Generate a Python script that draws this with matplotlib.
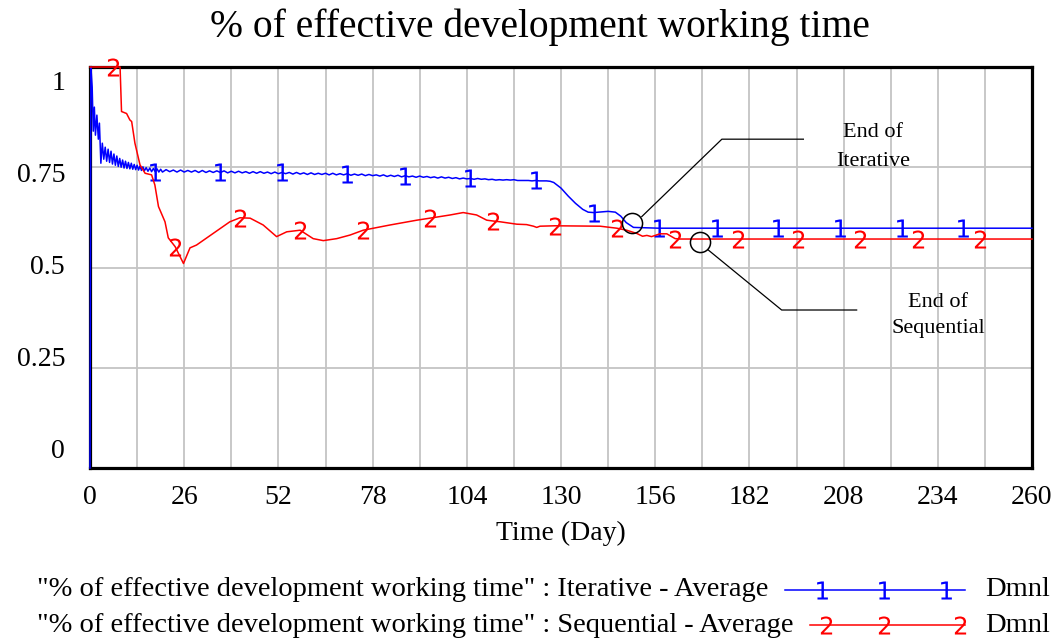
import numpy as np
import matplotlib
matplotlib.use("Agg")
import matplotlib.pyplot as plt
from matplotlib.transforms import offset_copy

plt.rcParams['font.family'] = ['Liberation Serif', 'DejaVu Serif']

# ---- data ----
# Iterative - Average (line "1")
iter_t_start = [0, 0.25, 0.6, 0.9, 1.2, 1.5, 1.9, 2.3, 2.6, 3.0,
                3.4, 3.8, 4.2, 4.6, 5.0, 5.4, 5.8, 6.2, 6.6, 7.0,
                7.4, 7.8, 8.2, 8.6, 9.0, 9.4, 9.8, 10.2, 10.6, 11.0,
                11.4, 11.8, 12.2, 12.6, 13.0, 13.4, 13.8, 14.2, 14.6, 15.0,
                15.5, 16.0, 16.5, 17.0, 17.5, 18.0, 18.5, 19.0, 19.5, 20.0]
iter_y_start = [0.0, 1.0, 0.95, 0.84, 0.90, 0.83, 0.88, 0.82, 0.86, 0.76,
                0.81, 0.77, 0.80, 0.765, 0.795, 0.762, 0.79, 0.758, 0.783, 0.755,
                0.778, 0.752, 0.772, 0.75, 0.768, 0.748, 0.765, 0.747, 0.762, 0.746,
                0.76, 0.745, 0.757, 0.744, 0.755, 0.743, 0.753, 0.742, 0.751, 0.741,
                0.749, 0.740, 0.748, 0.739, 0.747, 0.739, 0.746, 0.738, 0.745, 0.738]
# daily values, day 21 .. 127
iter_y_mid = [0.744, 0.739, 0.743, 0.738, 0.743, 0.738, 0.742, 0.738, 0.742, 0.737,
              0.742, 0.737, 0.741, 0.737, 0.741, 0.737, 0.741, 0.736, 0.740, 0.736,
              0.740, 0.736, 0.739, 0.735, 0.739, 0.735, 0.739, 0.735, 0.738, 0.734,
              0.738, 0.734, 0.737, 0.734, 0.737, 0.733, 0.737, 0.733, 0.736, 0.732,
              0.736, 0.732, 0.735, 0.732, 0.735, 0.731, 0.735, 0.731, 0.734, 0.731,
              0.734, 0.730, 0.733, 0.730, 0.733, 0.729, 0.732, 0.729, 0.731, 0.728,
              0.731, 0.727, 0.730, 0.727, 0.730, 0.726, 0.729, 0.726, 0.728, 0.725,
              0.728, 0.725, 0.727, 0.724, 0.726, 0.723, 0.726, 0.723, 0.725, 0.722,
              0.724, 0.721, 0.723, 0.721, 0.722, 0.720, 0.722, 0.720, 0.721, 0.719,
              0.720, 0.718, 0.719, 0.718, 0.719, 0.718, 0.719, 0.717, 0.717, 0.717,
              0.717, 0.716, 0.717, 0.716, 0.716, 0.716, 0.715]
iter_t_end = [128, 130, 132, 134, 136, 137.5, 139, 143, 145, 146.5, 148, 150,
              157, 173, 190, 207, 224, 241, 260]
iter_y_end = [0.712, 0.698, 0.678, 0.660, 0.645, 0.638, 0.637, 0.640, 0.638,
              0.628, 0.612, 0.600, 0.598, 0.598, 0.598, 0.598, 0.598, 0.598, 0.598]
iter_marks = [18, 36, 53, 71, 87, 105, 123, 139, 157, 173, 190, 207, 224, 241]

# Sequential - Average (line "2")
seq_t = [0, 6.3, 8.3, 8.7, 10.1, 11.0, 11.5, 12.4, 13.8, 15.2,
         17.0, 17.9, 18.9, 20.7, 21.6, 23.5, 25.8, 27.6, 29.4, 34.0,
         38.6, 41.4, 44.2, 47.8, 51.5, 54.3, 58.0, 61.6, 64.4, 68.1,
         71.8, 75.4, 82.8, 90.2, 93.8, 99.4, 103.0, 106.7, 109.5, 111.2,
         113.2, 117.8, 120.5, 122.4, 123.3, 124.2, 128.3, 140.8, 145.4, 148.1,
         150.9, 152.5, 153.7, 155.0, 157.3, 159.2, 161.5, 163.0, 178.9, 195.4,
         212.5, 228.5, 245.6, 260]
seq_y = [1.0, 1.0, 1.0, 0.889, 0.884, 0.868, 0.864, 0.81, 0.756, 0.735,
         0.731, 0.706, 0.652, 0.614, 0.574, 0.552, 0.51, 0.549, 0.556, 0.585,
         0.614, 0.624, 0.623, 0.606, 0.577, 0.589, 0.593, 0.572, 0.567, 0.572,
         0.581, 0.593, 0.606, 0.618, 0.623, 0.631, 0.637, 0.631, 0.618, 0.616,
         0.614, 0.608, 0.607, 0.603, 0.600, 0.603, 0.604, 0.603, 0.598, 0.593,
         0.585, 0.578, 0.580, 0.577, 0.584, 0.584, 0.572, 0.571, 0.571, 0.571,
         0.571, 0.571, 0.571, 0.571]
seq_marks = [6.3, 23.5, 41.4, 58.0, 75.4, 93.8, 111.2, 128.3, 145.4, 161.5,
             178.9, 195.4, 212.5, 228.5, 245.6]

x_ticks = [0, 26, 52, 78, 104, 130, 156, 182, 208, 234, 260]
y_ticks = [0, 0.25, 0.5, 0.75, 1]
y_tick_labels = ['0', '0.25', '0.5', '0.75', '1']

title = '% of effective development working time'
legend_labels = ['"% of effective development working time" : Iterative - Average',
                 '"% of effective development working time" : Sequential - Average']
units = 'Dmnl'

BLUE = '#0000ff'
RED = '#ff0000'
MK = 13


def mark_idx(t, marks):
    t = np.asarray(t, dtype=float)
    return [int(np.argmin(np.abs(t - m))) for m in marks]


def main():
    iter_t = np.concatenate([iter_t_start, np.arange(21, 128), iter_t_end])
    iter_y = np.concatenate([iter_y_start, iter_y_mid, iter_y_end])

    fig = plt.figure(figsize=(10.62, 6.39), dpi=100)
    ax = fig.add_axes([90 / 1062, 171 / 639, 942 / 1062, 401 / 639])

    ax.plot(iter_t, iter_y, color=BLUE, lw=1.1, marker='$1$', markersize=MK,
            mew=0, markevery=mark_idx(iter_t, iter_marks), clip_on=False, zorder=3)
    ax.plot(seq_t, seq_y, color=RED, lw=1.1, marker='$2$', markersize=MK,
            mew=0, markevery=mark_idx(seq_t, seq_marks), clip_on=False, zorder=4)

    ax.set_xlim(0, 260)
    ax.set_ylim(0, 1)
    ax.set_xticks(x_ticks)
    ax.set_xticks(np.arange(13, 260, 26), minor=True)
    ax.set_yticks(y_ticks)
    ax.set_yticklabels([])
    ax.grid(True, which='both', color='#c4c4c4', lw=1.3)
    ax.set_axisbelow(True)
    ax.tick_params(axis='both', which='both', length=0)
    ax.tick_params(axis='x', labelsize=20, pad=12)
    for s in ax.spines.values():
        s.set_linewidth(2.3)
        s.set_color('black')

    # vensim style y labels, squeezed toward the middle
    tr = offset_copy(ax.transAxes, fig=fig, x=-25, y=0, units='dots')
    for v, lab in zip(y_ticks, y_tick_labels):
        ax.text(0, 0.5 + (v - 0.5) * 0.918, lab, transform=tr,
                ha='right', va='center', fontsize=20)

    ax.set_xlabel('Time (Day)', fontsize=20, labelpad=8)
    fig.text(540 / 1062, 1 - 27 / 639, title, ha='center', va='center', fontsize=28.5)

    # annotations
    ax.plot([149.5], [0.610], marker='o', ms=14.5, mfc='none', mec='black', mew=1.1,
            ls='none', zorder=5)
    ax.plot([168.4], [0.564], marker='o', ms=14.5, mfc='none', mec='black', mew=1.1,
            ls='none', zorder=5)
    ax.plot([152.3, 174.4, 196.9], [0.627, 0.820, 0.820], color='black', lw=0.9, zorder=5)
    ax.plot([170.6, 190.9, 211.6], [0.544, 0.394, 0.394], color='black', lw=0.9, zorder=5)
    ax.text(216.1, 0.836, 'End of', ha='center', va='center', fontsize=16)
    ax.text(216.1, 0.764, 'Iterative', ha='center', va='center', fontsize=16)
    ax.text(234.1, 0.412, 'End of', ha='center', va='center', fontsize=16)
    ax.text(234.1, 0.347, 'Sequential', ha='center', va='center', fontsize=16)

    # legend below, in pixel coordinates
    lg = fig.add_axes([0, 0, 1, 1], facecolor='none')
    lg.set_xlim(0, 1062)
    lg.set_ylim(639, 0)
    lg.axis('off')
    rows = [(legend_labels[0], BLUE, '$1$', 590, [785, 822, 884, 946, 965]),
            (legend_labels[1], RED, '$2$', 625, [810, 826, 884, 960, 965])]
    for text, col, mk, yy, xs in rows:
        lg.text(37, yy, text, ha='left', va='center', fontsize=20.5)
        lg.plot(xs, [yy] * len(xs), color=col, lw=1.1, marker=mk, markersize=MK,
                mew=0, markevery=[1, 2, 3])
        lg.text(985, yy, units, ha='left', va='center', fontsize=20.5)

    fig.savefig('out.png', dpi=100)


if __name__ == '__main__':
    main()
